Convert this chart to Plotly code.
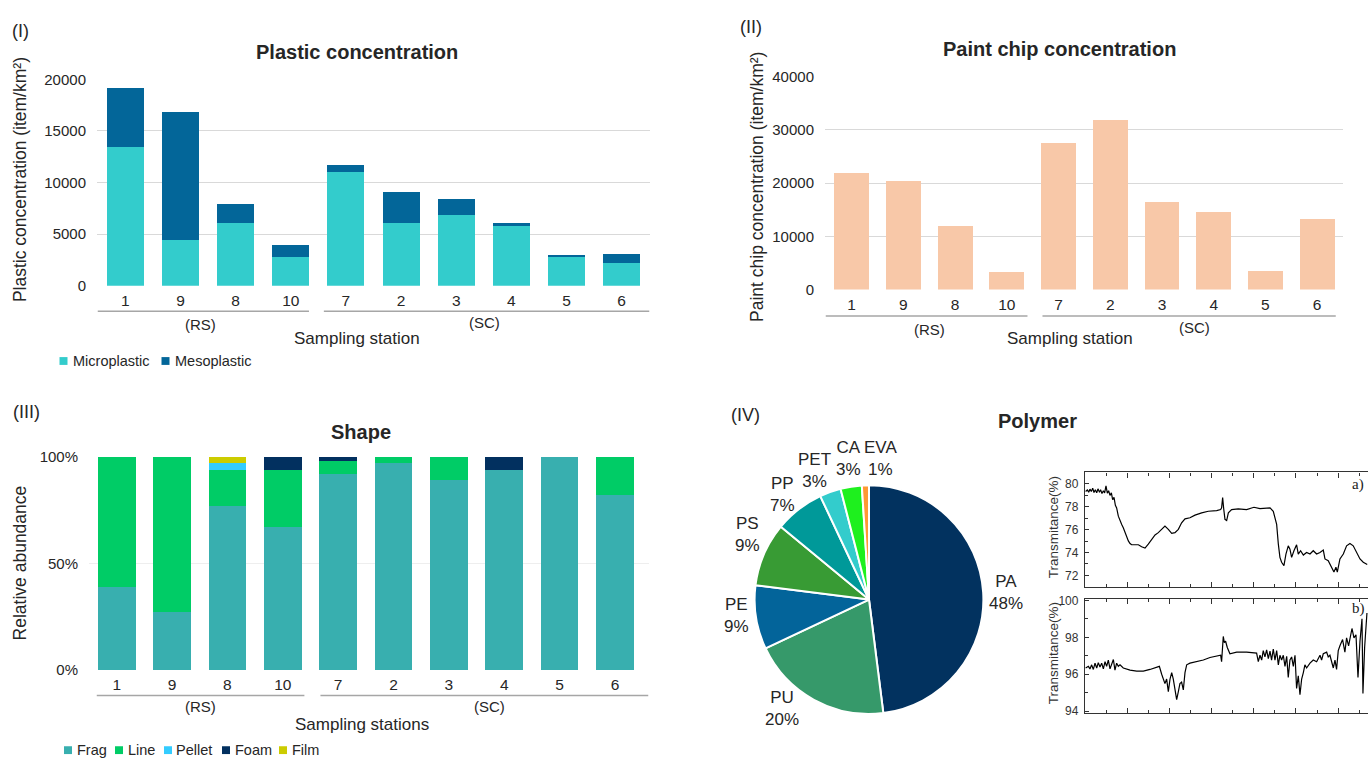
import plotly.graph_objects as go

W, H = 1368, 765

# ---------------- data ----------------
stations = ["1", "9", "8", "10", "7", "2", "3", "4", "5", "6"]

microplastic = [13400, 4400, 6100, 2800, 11000, 6100, 6900, 5800, 2800, 2200]
mesoplastic = [5800, 12400, 1800, 1100, 700, 3000, 1500, 300, 200, 900]

paint_chip = [21900, 20300, 11900, 3300, 27500, 31900, 16500, 14500, 3500, 13200]

shape_frag = [39, 27, 77, 67, 92, 97, 89, 94, 100, 82]
shape_line = [61, 73, 17, 27, 6, 3, 11, 0, 0, 18]
shape_pellet = [0, 0, 3, 0, 0, 0, 0, 0, 0, 0]
shape_foam = [0, 0, 0, 6, 2, 0, 0, 6, 0, 0]
shape_film = [0, 0, 3, 0, 0, 0, 0, 0, 0, 0]
shape_ticks = [0, 50, 100]

polymers = ["PA", "PU", "PE", "PS", "PP", "PET", "CA", "EVA"]
polymer_pct = [48, 20, 9, 9, 7, 3, 3, 1]

# FTIR spectra: (wavenumber cm-1, transmittance %)
spectrum_a = [
    (3994, 79.34), (3978, 79.48), (3965, 79.28), (3953, 79.54), (3940, 79.34),
    (3927, 79.63), (3915, 79.25), (3902, 79.48), (3889, 79.22), (3877, 79.57),
    (3864, 79.31), (3851, 79.45), (3839, 79.17), (3826, 79.40), (3814, 79.22),
    (3801, 79.83), (3788, 79.19), (3776, 79.40), (3763, 78.99), (3750, 79.22),
    (3738, 78.62), (3725, 78.82), (3712, 78.13), (3700, 77.90), (3684, 77.18),
    (3668, 76.89), (3652, 76.46), (3637, 76.17), (3621, 75.74), (3605, 75.37),
    (3589, 75.02), (3573, 74.79), (3558, 74.68), (3526, 74.68), (3494, 74.68),
    (3463, 74.50), (3431, 74.39), (3400, 74.73), (3368, 75.17), (3336, 75.54),
    (3305, 75.74), (3273, 76.03), (3242, 76.32), (3210, 76.03), (3178, 75.68),
    (3147, 75.74), (3115, 76.03), (3084, 76.60), (3052, 76.95), (3005, 77.04),
    (2957, 77.27), (2894, 77.47), (2831, 77.61), (2752, 77.67), (2714, 77.76),
    (2705, 77.90), (2695, 78.80), (2686, 77.90), (2673, 76.90), (2657, 76.80),
    (2641, 77.47), (2610, 77.76), (2547, 77.81), (2468, 77.76), (2398, 77.96),
    (2341, 77.84), (2294, 77.90), (2246, 77.90), (2215, 77.61), (2183, 76.46),
    (2167, 74.73), (2152, 73.58), (2136, 73.15), (2114, 72.86), (2095, 73.87),
    (2073, 74.59), (2057, 74.30), (2041, 73.58), (2019, 74.16), (1994, 74.68),
    (1978, 73.87), (1956, 74.16), (1930, 73.78), (1899, 74.01), (1867, 73.87),
    (1836, 74.16), (1804, 73.87), (1772, 74.01), (1741, 74.22), (1725, 73.44),
    (1694, 73.29), (1662, 72.72), (1640, 72.29), (1621, 72.72), (1608, 72.29),
    (1583, 73.44), (1551, 73.87), (1520, 74.59), (1488, 74.79), (1457, 74.59),
    (1425, 74.01), (1393, 73.44), (1362, 73.15), (1324, 72.95),
]

spectrum_b = [
    (3994, 96.34), (3968, 96.43), (3953, 96.29), (3937, 96.51), (3921, 96.26),
    (3905, 96.60), (3889, 96.34), (3874, 96.63), (3858, 96.39), (3842, 96.60),
    (3826, 96.29), (3810, 96.68), (3795, 96.43), (3779, 96.77), (3763, 96.29),
    (3747, 96.60), (3731, 96.80), (3716, 96.22), (3700, 96.60), (3684, 96.43),
    (3668, 96.51), (3637, 96.34), (3605, 96.26), (3573, 96.22), (3510, 96.17),
    (3447, 96.17), (3384, 96.26), (3321, 96.39), (3295, 96.43), (3273, 96.00),
    (3257, 95.66), (3242, 95.49), (3226, 95.74), (3210, 95.06), (3194, 95.74),
    (3178, 96.09), (3163, 95.74), (3147, 95.23), (3131, 94.63), (3115, 95.06),
    (3100, 95.49), (3084, 95.57), (3068, 95.15), (3052, 96.09), (3036, 96.51),
    (3005, 96.60), (2942, 96.68), (2878, 96.77), (2815, 96.91), (2714, 97.03),
    (2705, 96.68), (2695, 97.28), (2689, 98.05), (2679, 97.71), (2667, 97.79),
    (2651, 97.45), (2626, 97.11), (2562, 97.20), (2468, 97.20), (2373, 97.15),
    (2357, 96.68), (2341, 97.03), (2325, 96.77), (2310, 97.28), (2294, 96.94),
    (2278, 97.32), (2262, 96.85), (2246, 97.25), (2231, 96.77), (2215, 97.37),
    (2199, 96.77), (2183, 97.28), (2167, 96.51), (2152, 97.03), (2136, 96.77),
    (2120, 97.03), (2104, 96.43), (2088, 96.97), (2073, 95.83), (2057, 96.77),
    (2041, 96.94), (2025, 96.43), (2009, 97.03), (1994, 95.23), (1978, 95.91),
    (1962, 94.89), (1946, 95.74), (1930, 96.09), (1915, 96.51), (1899, 96.34),
    (1867, 96.60), (1836, 96.77), (1804, 96.68), (1772, 97.03), (1757, 96.77),
    (1741, 97.11), (1709, 97.20), (1694, 96.94), (1678, 97.03), (1646, 96.34),
    (1630, 96.77), (1615, 96.26), (1599, 97.28), (1583, 97.54), (1558, 97.88),
    (1536, 97.20), (1520, 97.97), (1501, 97.54), (1482, 98.14), (1469, 98.48),
    (1450, 97.97), (1431, 98.14), (1412, 95.83), (1393, 97.79), (1374, 99.01),
    (1365, 94.96), (1349, 97.45), (1327, 99.32),
]

# ---------------- styling ----------------
FONT = "Liberation Sans, Arial, sans-serif"
SERIF = "Liberation Serif, Times New Roman, serif"
TXT = "#262626"
GRID = "#D9D9D9"

C_MICRO, C_MESO = "#33CCCC", "#036699"
C_PAINT = "#F8C8A8"
SHAPE_COLORS = {"Frag": "#38AFAF", "Line": "#00CC66", "Pellet": "#33CCFF",
                "Foam": "#02305F", "Film": "#CCCC00"}
POLY_COLORS = ["#02325F", "#36996A", "#03649A", "#389B34", "#009999",
               "#33CCCC", "#1EF01E", "#FF9933"]


def px(x):
    return x / W


def py(y):
    return 1 - y / H


fig = go.Figure()

# Panel I: stacked plastic concentration
fig.add_trace(go.Bar(x=stations, y=microplastic, name="Microplastic",
                     marker=dict(color=C_MICRO, line_width=0), width=0.67,
                     xaxis="x", yaxis="y", showlegend=False))
fig.add_trace(go.Bar(x=stations, y=mesoplastic, name="Mesoplastic",
                     marker=dict(color=C_MESO, line_width=0), width=0.67,
                     xaxis="x", yaxis="y", showlegend=False))

# Panel II: paint chips
fig.add_trace(go.Bar(x=stations, y=paint_chip, name="Paint chip",
                     marker=dict(color=C_PAINT, line_width=0), width=0.675,
                     xaxis="x2", yaxis="y2", showlegend=False))

# Panel III: shape composition
shape_series = [("Frag", shape_frag), ("Line", shape_line), ("Pellet", shape_pellet),
                ("Foam", shape_foam), ("Film", shape_film)]
for nm, vals in shape_series:
    fig.add_trace(go.Bar(x=stations, y=vals, name=nm,
                         marker=dict(color=SHAPE_COLORS[nm], line_width=0), width=0.68,
                         xaxis="x3", yaxis="y3", showlegend=False))

# Panel IV: polymer pie
cx, cy, r = 869, 604, 117
fig.add_trace(go.Pie(labels=polymers, values=polymer_pct, sort=False,
                     direction="clockwise", rotation=0, textinfo="none",
                     marker=dict(colors=POLY_COLORS, line=dict(color="white", width=2)),
                     domain=dict(x=[px(cx - r), px(cx + r)], y=[py(cy + r), py(cy - r)]),
                     showlegend=False))

# FTIR spectra
wa, ta = zip(*spectrum_a)
wb, tb = zip(*spectrum_b)
fig.add_trace(go.Scatter(x=wa, y=ta, mode="lines", line=dict(color="black", width=1.2),
                         xaxis="x4", yaxis="y4", showlegend=False))
fig.add_trace(go.Scatter(x=wb, y=tb, mode="lines", line=dict(color="black", width=1.2),
                         xaxis="x5", yaxis="y5", showlegend=False))

tickfont = dict(family=FONT, size=15.5, color=TXT)
cat_x = dict(type="category", showgrid=False, zeroline=False, showline=False,
             ticks="", tickfont=tickfont, ticklabelstandoff=4)
val_y = dict(showline=False, zeroline=False, gridcolor=GRID, gridwidth=1,
             ticks="", tickfont=dict(family=FONT, size=15, color=TXT),
             ticklabelstandoff=10, tickformat="d")

spec_x = dict(range=[4000, 1317], showticklabels=False, showgrid=False, zeroline=False,
              showline=True, linecolor="#333", linewidth=1.3, mirror="ticks",
              ticks="inside", ticklen=5, tickcolor="#333", dtick=400, tick0=0,
              minor=dict(ticks="inside", ticklen=3, dtick=200, tick0=0, tickcolor="#333"))
spec_y = dict(showgrid=False, zeroline=False, showline=True, linecolor="#333",
              linewidth=1.3, ticks="inside", ticklen=4, tickcolor="#333",
              dtick=2, tick0=0,
              minor=dict(ticks="inside", ticklen=3, dtick=1, tick0=0, tickcolor="#333"),
              tickfont=dict(family=FONT, size=12, color="#333"), ticklabelstandoff=3)

fig.update_layout(
    width=W, height=H, margin=dict(l=0, r=0, t=0, b=0),
    paper_bgcolor="white", plot_bgcolor="white",
    barmode="stack", font=dict(family=FONT, color=TXT),
    xaxis=dict(cat_x, domain=[px(97), px(650)], anchor="y"),
    yaxis=dict(val_y, domain=[py(283), py(72)], range=[0, 20000], dtick=5000, anchor="x"),
    xaxis2=dict(cat_x, domain=[px(825), px(1343)], anchor="y2"),
    yaxis2=dict(val_y, domain=[py(287), py(69)], range=[0, 40000], dtick=10000, anchor="x2"),
    xaxis3=dict(cat_x, domain=[px(89), px(649)], anchor="y3"),
    yaxis3=dict(val_y, domain=[py(676), py(458)], range=[0, 100], tickmode="array",
                tickvals=shape_ticks, ticktext=[f"{t}%" for t in shape_ticks],
                gridcolor="#EEEEEE", anchor="x3"),
    xaxis4=dict(spec_x, domain=[px(1085), 1.0], anchor="y4"),
    yaxis4=dict(spec_y, domain=[py(591), py(474)], range=[71, 81], anchor="x4"),
    xaxis5=dict(spec_x, domain=[px(1085), 1.0], anchor="y5"),
    yaxis5=dict(spec_y, domain=[py(720), py(603)], range=[93.9, 100.1], anchor="x5"),
)

annotations = []
shapes = []


def text(x, y, s, size=15, bold=False, angle=0, anchor="center", family=FONT, color=TXT):
    annotations.append(dict(
        x=px(x), y=py(y), xref="paper", yref="paper", showarrow=False,
        text=f"<b>{s}</b>" if bold else s, textangle=angle,
        xanchor=anchor, yanchor="middle",
        font=dict(family=family, size=size, color=color)))


def square(x, y, color, s=8):
    shapes.append(dict(type="rect", xref="paper", yref="paper",
                       x0=px(x - s / 2), x1=px(x + s / 2), y0=py(y + s / 2), y1=py(y - s / 2),
                       fillcolor=color, line=dict(width=0)))


def group_line(xref, x0, x1, y):
    shapes.append(dict(type="line", xref=xref, yref="paper", x0=x0, x1=x1,
                       y0=py(y), y1=py(y), line=dict(color="#A6A6A6", width=1.5)))


# Panel I texts
text(20, 23, "(I)", size=18)
text(357, 44, "Plastic concentration", size=20, bold=True)
text(20, 175, "Plastic concentration (item/km²)", size=17.5, angle=-90)
group_line("x", -0.5, 3.33, 309)
group_line("x", 3.6, 9.5, 309)
text(200, 323, "(RS)", size=15)
text(485, 321, "(SC)", size=15)
text(357, 337, "Sampling station", size=17)
for cxl, nm, col in [(63.5, "Microplastic", C_MICRO), (165.5, "Mesoplastic", C_MESO)]:
    square(cxl, 360, col)
    text(cxl + 7.5, 360, nm, size=14.5, anchor="left")

# Panel II texts
text(751, 18, "(II)", size=18)
text(1059, 41, "Paint chip concentration", size=20, bold=True)
text(757, 182, "Paint chip concentration (item/km²)", size=17.5, angle=-90)
group_line("x2", -0.5, 3.4, 314)
group_line("x2", 3.69, 9.36, 314)
text(929, 328, "(RS)", size=15)
text(1194, 326, "(SC)", size=15)
text(1070, 337, "Sampling station", size=17)

# Panel III texts
text(26, 412, "(III)", size=18)
text(361, 433, "Shape", size=20, bold=True)
text(20, 567, "Relative abundance", size=17.5, angle=-90)
group_line("x3", -0.36, 3.39, 702)
group_line("x3", 3.68, 9.6, 702)
text(200, 713, "(RS)", size=15)
text(489, 713, "(SC)", size=15)
text(362, 732, "Sampling stations", size=17)
for cxl, (nm, _) in zip([68, 119, 168, 226, 283], shape_series):
    square(cxl, 758, SHAPE_COLORS[nm])
    text(cxl + 6.5, 758, nm, size=14.5, anchor="left")

# Panel IV texts
text(746, 415, "(IV)", size=18)
text(1037, 421, "Polymer", size=20, bold=True)
label_pos = [(1006, 597), (782, 715), (736, 620), (747, 537),
             (783, 497), (814, 472), (848, 460), (880, 460)]
for (lx, ly), nm, v in zip(label_pos, polymers, polymer_pct):
    text(lx, ly, f"{nm}<br>{v}%", size=17)

# Spectra texts
text(1053, 530, "Transmitance(%)", size=13.5, angle=-90, color="#333")
text(1053, 659, "Transmitance(%)", size=13.5, angle=-90, color="#333")
text(1358, 486, "a)", size=15, family=SERIF, color="#222")
text(1358, 613, "b)", size=15, family=SERIF, color="#222")

fig.update_layout(annotations=annotations, shapes=shapes)
fig.write_html("out.html")
